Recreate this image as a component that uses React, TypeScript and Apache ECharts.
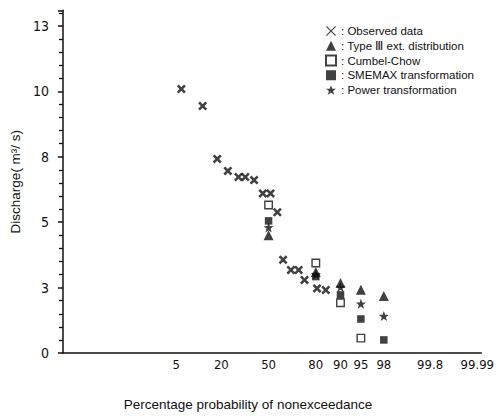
import React, { useEffect, useRef } from "react";
import * as echarts from "echarts";

// ---------- data ----------
const tickProbs = [5, 20, 50, 80, 90, 95, 98, 99.8, 99.99];
const tickLabels = ["5", "20", "50", "80", "90", "95", "98", "99.8", "99.99"];

const obsProb = [6.0, 12.0, 18.0, 23.4, 29.6, 33.9, 39.8, 45.9, 51.4, 56.2, 60.2, 65.5, 70.4, 73.9, 80.6, 84.6];
const obsQ = [10.09, 9.44, 7.42, 6.96, 6.73, 6.73, 6.61, 6.1, 6.1, 5.38, 3.56, 3.17, 3.17, 2.79, 2.47, 2.41];

const modelProb = [50, 80, 90, 95, 98];
const typeIII = [4.5, 3.1, 2.68, 2.42, 2.18];
const gumbelProb = [50, 80, 90, 95];
const gumbelChow = [5.66, 3.44, 1.92, 0.57];
const smemax = [5.05, 2.92, 2.22, 1.3, 0.5];
const power = [4.8, 3.0, 2.52, 1.88, 1.41];

const yTickStep = 2.5;

// ---------- normal probability scale ----------
function probit(pct: number): number {
  const p = pct / 100;
  const a = [-3.969683028665376e1, 2.209460984245205e2, -2.759285104469687e2, 1.38357751867269e2, -3.066479806614716e1, 2.506628277459239];
  const b = [-5.447609879822406e1, 1.615858368580409e2, -1.556989798598866e2, 6.680131188771972e1, -1.328068155288572e1];
  const c = [-7.784894002430293e-3, -3.223964580411365e-1, -2.400758277161838, -2.549732539343734, 4.374664141464968, 2.938163982698783];
  const d = [7.784695709041462e-3, 3.224671290700398e-1, 2.445134137142996, 3.754408661907416];
  const pl = 0.02425;
  let q: number, r: number;
  if (p < pl) {
    q = Math.sqrt(-2 * Math.log(p));
    return (((((c[0] * q + c[1]) * q + c[2]) * q + c[3]) * q + c[4]) * q + c[5]) / ((((d[0] * q + d[1]) * q + d[2]) * q + d[3]) * q + 1);
  }
  if (p > 1 - pl) {
    q = Math.sqrt(-2 * Math.log(1 - p));
    return -(((((c[0] * q + c[1]) * q + c[2]) * q + c[3]) * q + c[4]) * q + c[5]) / ((((d[0] * q + d[1]) * q + d[2]) * q + d[3]) * q + 1);
  }
  q = p - 0.5;
  r = q * q;
  return ((((((a[0] * r + a[1]) * r + a[2]) * r + a[3]) * r + a[4]) * r + a[5]) * q) / (((((b[0] * r + b[1]) * r + b[2]) * r + b[3]) * r + b[4]) * r + 1);
}

const tickZ = tickProbs.map(probit);
const pairs = (ps: number[], vs: number[]) => vs.map((v, i) => [probit(ps[i]), v]);

const X_BOLD = "path://M0,2 L2,0 L5,3 L8,0 L10,2 L7,5 L10,8 L8,10 L5,7 L2,10 L0,8 L3,5 Z";
const X_THIN = "path://M0,0.8 L0.8,0 L5,4.2 L9.2,0 L10,0.8 L5.8,5 L10,9.2 L9.2,10 L5,5.8 L0.8,10 L0,9.2 L4.2,5 Z";
const STAR = "path://M5,0 L6.3,3.5 L10,3.6 L7.1,5.9 L8.1,9.6 L5,7.4 L1.9,9.6 L2.9,5.9 L0,3.6 L3.7,3.5 Z";

const NARROW = "'Liberation Sans Narrow', 'DejaVu Sans Condensed', 'Liberation Sans', Arial, sans-serif";
const SANS = "'Liberation Sans', Arial, sans-serif";

export default function App() {
  const ref = useRef<HTMLDivElement>(null);
  useEffect(() => {
    if (!ref.current) return;
    const chart = echarts.init(ref.current, null, { renderer: "svg" });
    const black = "#111";
    chart.setOption({
      animation: false,
      backgroundColor: "#fff",
      grid: { left: 62, right: 3, top: 10.3, bottom: 63 },
      xAxis: {
        type: "value",
        min: -3.665,
        max: 3.79,
        splitLine: { show: false },
        axisLine: { onZero: false, lineStyle: { color: black, width: 1.5 } },
        axisTick: { show: false },
        axisLabel: {
          customValues: tickZ,
          margin: 5,
          color: black,
          fontSize: 13,
          fontFamily: NARROW,
          formatter: (v: number) => {
            let best = 0;
            tickZ.forEach((z, i) => {
              if (Math.abs(z - v) < Math.abs(tickZ[best] - v)) best = i;
            });
            return tickLabels[best];
          },
        },
      },
      yAxis: {
        type: "value",
        min: 0,
        max: 13.1,
        interval: yTickStep,
        name: "Discharge( m³/ s)",
        nameLocation: "middle",
        nameGap: 39,
        nameTextStyle: { color: black, fontSize: 13.5, fontFamily: SANS },
        splitLine: { show: false },
        axisLine: { onZero: false, lineStyle: { color: black, width: 1.5 } },
        axisTick: { show: true, length: 5, lineStyle: { color: black, width: 1.5 } },
        minorTick: { show: true, splitNumber: 5, length: 4, lineStyle: { color: black, width: 1.3 } },
        axisLabel: {
          showMaxLabel: false,
          margin: 14,
          color: black,
          fontSize: 14,
          fontFamily: NARROW,
          formatter: (v: number) => String(Math.round(v)),
        },
      },
      legend: {
        orient: "vertical",
        left: 320,
        top: 20,
        itemWidth: 10,
        itemHeight: 10,
        itemGap: 2.75,
        formatter: ": {name}",
        textStyle: { color: black, fontSize: 11.5, fontFamily: SANS },
        data: [
          { name: "Observed data", icon: X_THIN },
          { name: "Type Ⅲ ext. distribution" },
          { name: "Cumbel-Chow" },
          { name: "SMEMAX transformation" },
          { name: "Power transformation" },
        ],
      },
      graphic: [
        {
          type: "text",
          x: 248,
          y: 404,
          style: {
            text: "Percentage probability of nonexceedance",
            fill: black,
            fontSize: 13.5,
            fontFamily: SANS,
            align: "center",
            verticalAlign: "middle",
          },
        },
      ],
      series: [
        {
          name: "Observed data",
          type: "scatter",
          symbol: X_BOLD,
          symbolSize: 9,
          itemStyle: { color: black },
          data: pairs(obsProb, obsQ),
        },
        {
          name: "Type Ⅲ ext. distribution",
          type: "scatter",
          symbol: "triangle",
          symbolSize: 10,
          itemStyle: { color: black },
          data: pairs(modelProb, typeIII),
        },
        {
          name: "Cumbel-Chow",
          type: "scatter",
          symbol: "rect",
          symbolSize: 7.5,
          itemStyle: { color: "#fff", borderColor: black, borderWidth: 1.4 },
          data: pairs(gumbelProb, gumbelChow),
        },
        {
          name: "SMEMAX transformation",
          type: "scatter",
          symbol: "rect",
          symbolSize: 7.5,
          itemStyle: { color: black },
          data: pairs(modelProb, smemax),
        },
        {
          name: "Power transformation",
          type: "scatter",
          symbol: STAR,
          symbolSize: 10,
          itemStyle: { color: black },
          data: pairs(modelProb, power),
        },
      ],
    });
    return () => chart.dispose();
  }, []);
  return (
    <div
      ref={ref}
      style={{ position: "absolute", left: 0, top: 0, width: 497, height: 416, background: "#fff" }}
    />
  );
}
